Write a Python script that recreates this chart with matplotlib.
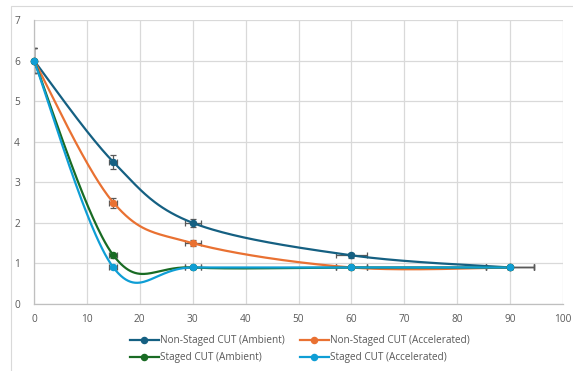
import numpy as np
import matplotlib
matplotlib.use('Agg')
import matplotlib.pyplot as plt
from matplotlib.patches import Rectangle

# time (x) and value (y) for each series
x_vals = [0, 15, 30, 60, 90]
ns_ambient = [6, 3.5, 2.0, 1.2, 0.9]
ns_accel = [6, 2.5, 1.5, 0.9, 0.9]
s_ambient = [6, 1.2, 0.9, 0.9, 0.9]
s_accel = [6, 0.9, 0.9, 0.9, 0.9]
err_pct = 0.05  # 5% error bars on both axes

names = ['Non-Staged CUT (Ambient)', 'Non-Staged CUT (Accelerated)',
         'Staged CUT (Ambient)', 'Staged CUT (Accelerated)']
colours = ['#156082', '#E97132', '#196B24', '#0F9ED5']


def excel_smooth(xs, ys, n=60):
    # bezier through points, control points a la catmull-rom (Excel smoothed line)
    p = np.column_stack([xs, ys]).astype(float)
    pts = np.vstack([p[0], p, p[-1]])
    out = []
    for i in range(1, len(pts) - 2):
        p0, p1, p2, p3 = pts[i - 1], pts[i], pts[i + 1], pts[i + 2]
        c1 = p1 + (p2 - p0) / 6
        c2 = p2 - (p3 - p1) / 6
        t = np.linspace(0, 1, n)[:, None]
        seg = ((1 - t) ** 3) * p1 + 3 * ((1 - t) ** 2) * t * c1 + 3 * (1 - t) * t ** 2 * c2 + t ** 3 * p2
        out.append(seg)
    out = np.vstack(out)
    return out[:, 0], out[:, 1]


plt.rcParams['font.family'] = ['Open Sans', 'DejaVu Sans']
fig = plt.figure(figsize=(5.73, 3.71), dpi=100)
ax = fig.add_axes([34 / 573, 1 - 304 / 371, (563 - 34) / 573, (304 - 20) / 371])

# outer chart border
fig.patches.append(Rectangle((11 / 573, -0.1), 1.2, 1 - 6 / 371 + 0.1, transform=fig.transFigure,
                             fill=False, edgecolor='#D9D9D9', linewidth=0.8, zorder=0))

handles = []
for ys, col, name in zip([ns_ambient, ns_accel, s_ambient, s_accel], colours, names):
    sx, sy = excel_smooth(x_vals, ys)
    eb = ax.errorbar(x_vals, ys, xerr=np.array(x_vals) * err_pct, yerr=np.array(ys) * err_pct,
                     fmt='none', ecolor='#595959', elinewidth=0.9, capsize=2.2, capthick=0.9, zorder=2)
    for art in eb.lines[1]:
        art.set_clip_path(ax.patch)
    ax.plot(sx, sy, color=col, linewidth=1.6, zorder=3, solid_capstyle='round')
    ax.plot(x_vals, ys, 'o', color=col, markersize=4.4, zorder=4, clip_on=False)
    h, = ax.plot([], [], color=col, linewidth=1.6, marker='o', markersize=4.4)
    handles.append(h)

ax.set_xlim(0, 100)
ax.set_ylim(0, 7)
ax.set_xticks(range(0, 101, 10))
ax.set_yticks(range(0, 8))
ax.grid(True, color='#D9D9D9', linewidth=0.9)
ax.set_axisbelow(True)
for s in ['top', 'right']:
    ax.spines[s].set_visible(False)
for s in ['left', 'bottom']:
    ax.spines[s].set_color('#BFBFBF')
    ax.spines[s].set_linewidth(0.9)
ax.tick_params(length=0, labelsize=7.3, colors='#595959', pad=7)
ax.tick_params(axis='y', pad=10)

order = [0, 2, 1, 3]
fig.legend([handles[i] for i in order], [names[i] for i in order], ncol=2,
           loc='center', bbox_to_anchor=(0.523, 0.059), frameon=False, fontsize=7.2,
           labelcolor='#595959', handlelength=2.9, handletextpad=0.1, columnspacing=1.5,
           labelspacing=0.6)

fig.savefig('out.png', dpi=100)
